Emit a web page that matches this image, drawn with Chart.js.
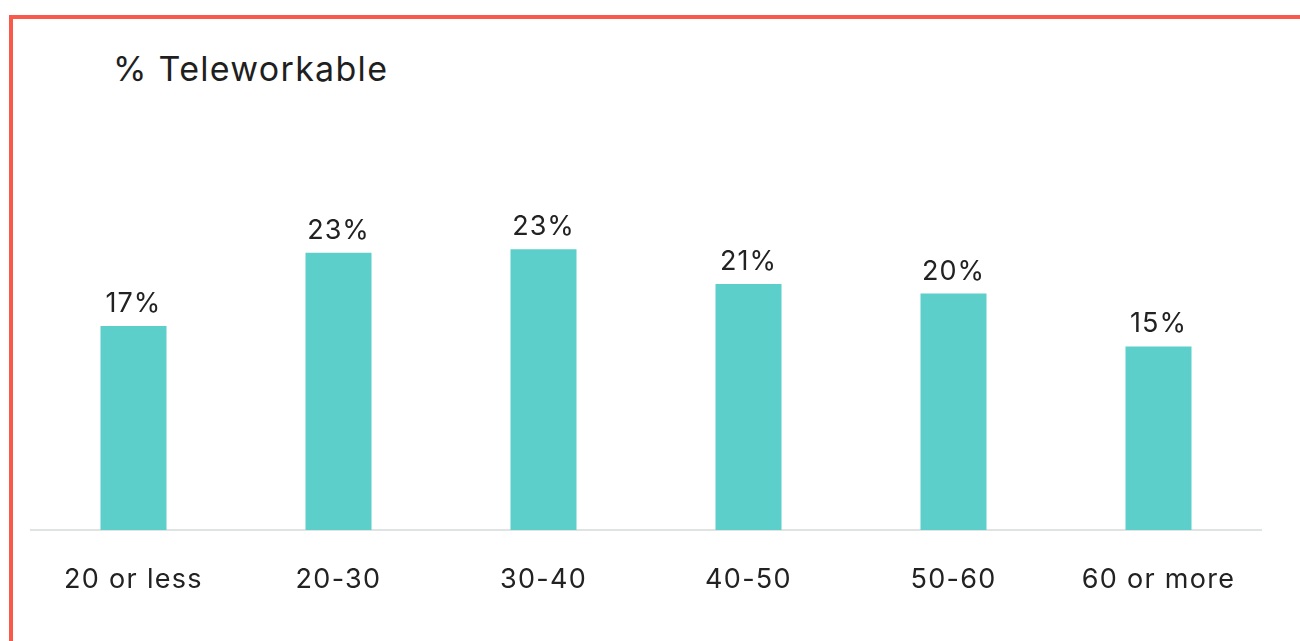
<!DOCTYPE html>
<html>
<head>
<meta charset="utf-8">
<script src="https://cdn.jsdelivr.net/npm/chart.js@4"></script>
<style>
  body { margin: 0; background: #fff; overflow: hidden; }
  .frame {
    position: absolute; left: 9px; top: 15px; width: 1300px; height: 700px;
    border-top: 4px solid #f8594a; border-left: 4px solid #f8594a;
  }
  .title {
    position: absolute; left: 113px; top: 52px; margin: 0;
    font: 400 34px/34px Inter, sans-serif; letter-spacing: 1.3px;
    color: #1f1f1f; white-space: nowrap;
  }
  #wrap { position: absolute; left: 0; top: 0; width: 1300px; height: 641px; }
</style>
</head>
<body>
<div class="frame"></div>
<h1 class="title">% Teleworkable</h1>
<div id="wrap"><canvas id="teleChart"></canvas></div>
<script>
const ageGroups = ['20 or less', '20-30', '30-40', '40-50', '50-60', '60 or more']
const teleworkable = [17.0, 23.1, 23.4, 20.5, 19.7, 15.3]
const valueLabels = ['17%', '23%', '23%', '21%', '20%', '15%']

// a little letter spacing on all canvas text, like the original
const spacing = {
  id: 'spacing',
  beforeDraw(chart) {
    chart.ctx.letterSpacing = '1.3px'
  }
}

const barLabels = {
  id: 'barLabels',
  afterDatasetsDraw(chart) {
    const { ctx } = chart
    const meta = chart.getDatasetMeta(0)
    ctx.save()
    ctx.letterSpacing = '1px'
    ctx.font = '27px Inter, sans-serif'
    ctx.fillStyle = '#222'
    ctx.textAlign = 'center'
    ctx.textBaseline = 'alphabetic'
    meta.data.forEach((bar, i) => {
      ctx.fillText(valueLabels[i], bar.x, bar.y - 14)
    })
    ctx.restore()
  }
}

function renderTeleChart() {
  const ctx = document.querySelector('#teleChart').getContext('2d')
  const myChart = new Chart(ctx, {
    type: 'bar',
    data: {
      labels: ageGroups,
      datasets: [{
        data: teleworkable,
        backgroundColor: '#5ccfcb',
        categoryPercentage: 1,
        barPercentage: 0.322
      }]
    },
    options: {
      responsive: true,
      maintainAspectRatio: false,
      animation: false,
      layout: { padding: { left: 31, right: 39, top: 170, bottom: 0 } },
      plugins: {
        legend: { display: false },
        tooltip: { enabled: false }
      },
      scales: {
        x: {
          grid: { display: false },
          border: { display: true, color: '#dfe3e2', width: 2 },
          ticks: { color: '#222', font: { family: 'Inter', size: 27 }, padding: 26 },
          afterFit: scale => { scale.height = 111 }
        },
        y: {
          display: false,
          min: 0,
          max: 30
        }
      }
    },
    plugins: [spacing, barLabels]
  });
}

renderTeleChart()
</script>
</body>
</html>
